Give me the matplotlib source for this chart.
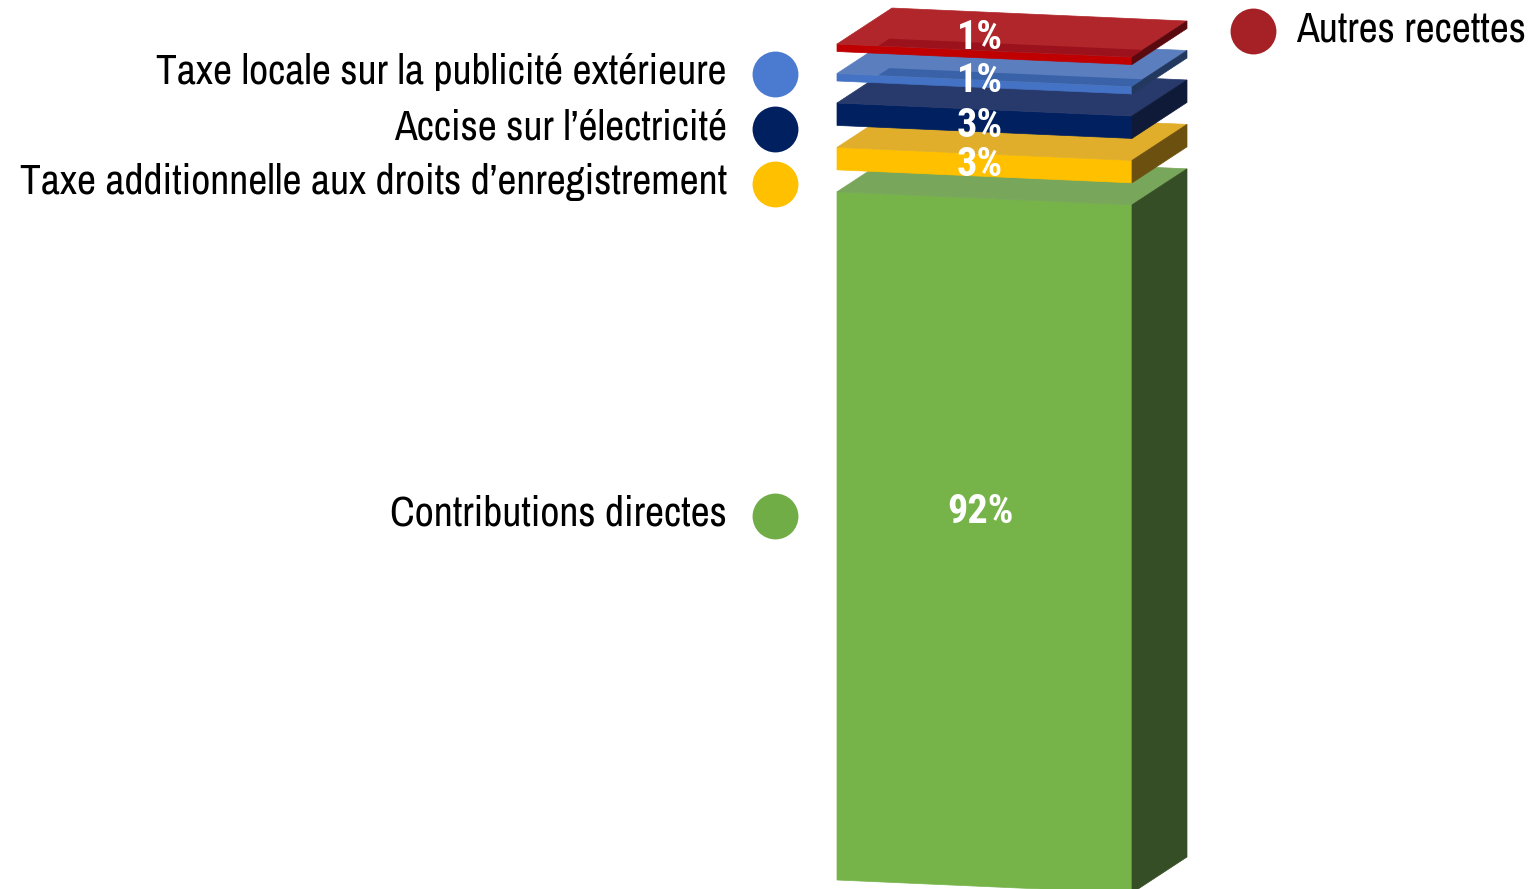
import numpy as np
import matplotlib.pyplot as plt
from matplotlib.patches import Polygon

# parts of the receipts, bottom of the stack first
categories = ["Contributions directes",
              "Taxe additionnelle aux droits d\u2019enregistrement",
              "Accise sur l\u2019\u00e9lectricit\u00e9",
              "Taxe locale sur la publicit\u00e9 ext\u00e9rieure",
              "Autres recettes"]
shares = [92, 3, 3, 1, 1]
share_labels = ["92%", "3%", "3%", "1%", "1%"]

front_cols = ["#76B44A", "#FFC000", "#002060", "#4472C4", "#C00000"]
top_cols = ["#78A65A", "#E0AE2A", "#283A6B", "#5A7EBE", "#B0262A"]
side_cols = ["#364E26", "#6B5010", "#0E1A38", "#23385E", "#5A0A0E"]
band_cols = [None, None, None, "#3A62A8", "#9B121C"]
dot_cols = ["#70AD47", "#FFC000", "#002060", "#4A7BD0", "#A52125"]

W, H = 1537, 889
k = 7.48            # pixels per percentage point
base_px = 880       # pixel row of the bar foot
gap = 2.94          # empty space between slabs, in percentage points
bar_x, bar_w = 837, 295
skew = 13 / k       # front edge falls towards the right
dep_x, dep_y = 55, 36 / k

fonts = ["Archivo Narrow", "Liberation Sans", "DejaVu Sans"]
bold_fonts = ["Roboto Condensed", "IBM Plex Sans Condensed", "DejaVu Sans"]


def v(px):
    return (base_px - px) / k


fig = plt.figure(figsize=(W / 100, H / 100), dpi=100)
ax = fig.add_axes([0, 0, 1, 1])
ax.set_xlim(0, W)
ax.set_ylim(v(H), v(0))
ax.axis("off")

x0, x1 = bar_x, bar_x + bar_w
bottom = 0
label_shift = [-30, 0, 5, -3, -16]   # nudges of the % labels, in pixels
for i, val in enumerate(shares):
    top = bottom + val
    front = [(x0, bottom), (x1, bottom - skew), (x1, top - skew), (x0, top)]
    lid = [(x0, top), (x1, top - skew), (x1 + dep_x, top - skew + dep_y),
           (x0 + dep_x, top + dep_y)]
    side = [(x1, bottom - skew), (x1 + dep_x, bottom - skew + dep_y),
            (x1 + dep_x, top - skew + dep_y), (x1, top - skew)]
    for pts, c in [(front, front_cols[i]), (lid, top_cols[i]), (side, side_cols[i])]:
        ax.add_patch(Polygon(pts, closed=True, fc=c, ec=c, lw=0.5, zorder=2 + i))
    if band_cols[i]:
        # darker strip seen through the thin lids
        xa = x0 + 0.14 * bar_w
        ya = top - 0.14 * skew
        band = [(xa, ya), (x1, top - skew), (x1 + 0.2 * dep_x, top - skew + 0.2 * dep_y),
                (xa + 0.2 * dep_x, ya + 0.2 * dep_y)]
        ax.add_patch(Polygon(band, closed=True, fc=band_cols[i], ec="none", zorder=2 + i))
    mid = (bottom + top) / 2 - skew / 2 - label_shift[i] / k
    ax.text(980, mid, share_labels[i], color="white", fontsize=29, fontweight="bold",
            family=bold_fonts, ha="center", va="center", zorder=20)
    bottom = top + gap

# legend dots and names
dot_y = [516, 184, 129, 74, 31]
for i, name in enumerate(categories):
    if i < 4:
        ax.scatter(775, v(dot_y[i]), s=1090, color=dot_cols[i], zorder=10, lw=0)
        ax.text(727, v(dot_y[i] - 2), name, fontsize=30, family=fonts,
                ha="right", va="center")
    else:
        ax.scatter(1253, v(dot_y[i]), s=1090, color=dot_cols[i], zorder=10, lw=0)
        ax.text(1296, v(dot_y[i] - 2), name, fontsize=30, family=fonts,
                ha="left", va="center")

fig.savefig("out.png", dpi=100)
